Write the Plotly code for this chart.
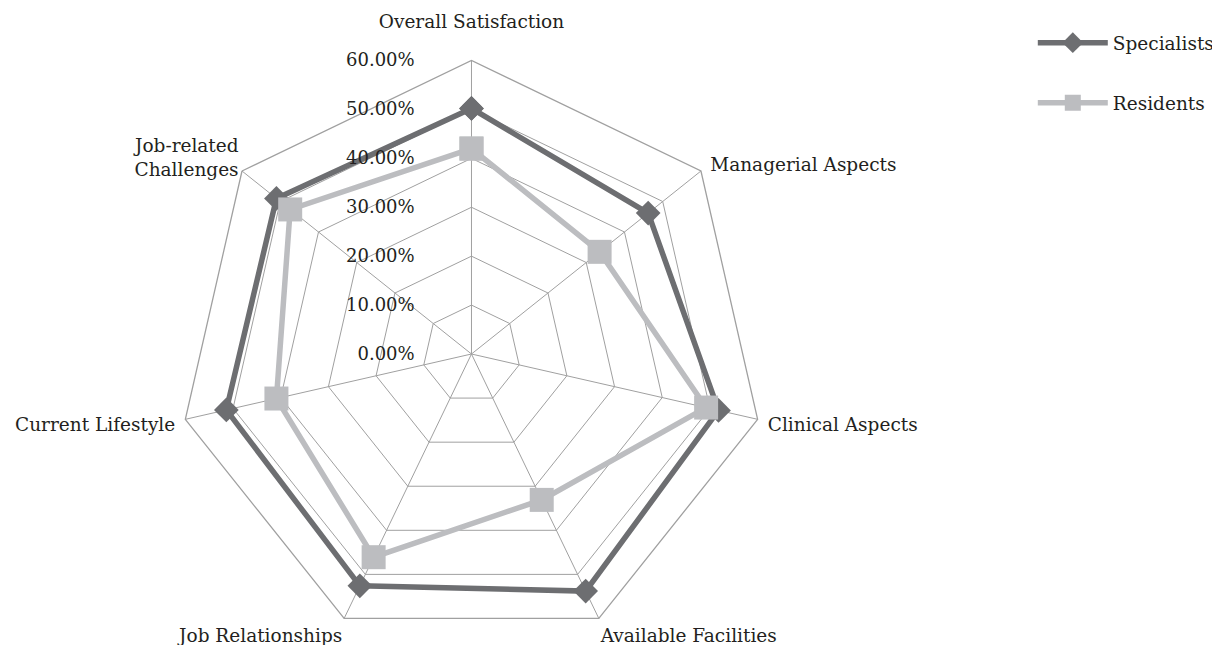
import plotly.graph_objects as go

categories = ["Overall Satisfaction", "Managerial Aspects", "Clinical Aspects",
              "Available Facilities", "Job Relationships", "Current Lifestyle",
              "Job-related Challenges"]
category_labels = ["Overall Satisfaction<br>\u00a0", "\u00a0Managerial Aspects",
                   "\u00a0Clinical Aspects", "Available Facilities", "Job Relationships",
                   "Current Lifestyle\u00a0", "Job-related<br>Challenges"]
specialists = [0.502, 0.462, 0.518, 0.538, 0.526, 0.514, 0.510]
residents = [0.420, 0.335, 0.492, 0.331, 0.461, 0.409, 0.474]
radial_ticks = [0.0, 0.1, 0.2, 0.3, 0.4, 0.5, 0.6]

FONT = "DejaVu Serif"
TEXT = "#231f20"
GRID = "#a0a0a0"

fig = go.Figure()

# close the polygons by repeating the first point
fig.add_trace(go.Scatterpolar(
    r=specialists + specialists[:1],
    theta=categories + categories[:1],
    name="Specialists",
    mode="lines+markers",
    line=dict(color="#6d6e71", width=5.5),
    marker=dict(symbol="diamond", size=19, color="#6d6e71"),
    legendgroup="a",
))
fig.add_trace(go.Scatterpolar(
    r=residents + residents[:1],
    theta=categories + categories[:1],
    name="Residents",
    mode="lines+markers",
    line=dict(color="#bcbdc0", width=5.5),
    marker=dict(symbol="square", size=24, color="#bcbdc0"),
    legendgroup="b",
))

fig.update_layout(
    width=1220,
    height=645,
    paper_bgcolor="white",
    plot_bgcolor="white",
    margin=dict(l=0, r=0, t=0, b=0),
    font=dict(family=FONT, color=TEXT, size=18),
    polar=dict(
        domain=dict(x=[0.1393, 0.6205], y=[0.0085, 0.9186]),
        gridshape="linear",
        bgcolor="white",
        radialaxis=dict(
            range=[0, 0.6],
            tickvals=radial_ticks,
            tickformat=".2%",
            angle=90,
            tickangle=90,
            side="counterclockwise",
            showline=False,
            gridcolor=GRID,
            gridwidth=1.3,
            ticks="outside",
            ticklen=50,
            tickcolor="rgba(0,0,0,0)",
            tickfont=dict(family=FONT, size=18, color=TEXT),
        ),
        angularaxis=dict(
            rotation=90,
            direction="clockwise",
            tickvals=categories,
            ticktext=category_labels,
            linecolor=GRID,
            linewidth=1.3,
            gridcolor=GRID,
            gridwidth=1.3,
            ticks="",
            tickfont=dict(family=FONT, size=18.5, color=TEXT),
        ),
    ),
    legend=dict(
        x=0.84, y=0.975, xanchor="left", yanchor="top",
        font=dict(family=FONT, size=18.5, color=TEXT),
        tracegroupgap=33,
        itemwidth=70,
        bgcolor="rgba(0,0,0,0)",
    ),
)

fig.write_html("out.html")
